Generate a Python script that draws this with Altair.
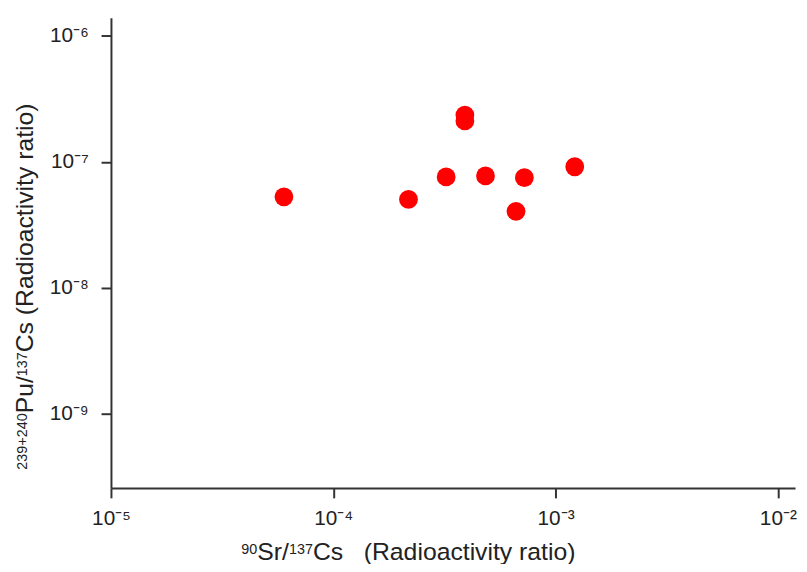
import altair as alt
import pandas as pd
import math

# Data
sr_cs = [6.0e-5, 2.18e-4, 3.22e-4, 3.91e-4, 3.91e-4, 4.84e-4, 7.24e-4, 6.64e-4, 1.22e-3]
pu_cs = [5.28e-8, 5.03e-8, 7.59e-8, 2.35e-7, 2.11e-7, 7.72e-8, 7.49e-8, 4.05e-8, 9.14e-8]

x_ticks = [1e-5, 1e-4, 1e-3, 1e-2]
x_tick_labels = ["10⁻⁵", "10⁻⁴", "10⁻³", "10⁻²"]
y_ticks = [1e-9, 1e-8, 1e-7, 1e-6]
y_tick_labels = ["10⁻⁹", "10⁻⁸", "10⁻⁷", "10⁻⁶"]

# Axis titles as (text, is_superscript) pieces
x_title_pieces = [("90", True), ("Sr/", False), ("137", True), ("Cs", False), ("   ", False),
                  ("(Radioactivity ratio)", False)]
y_title_pieces = [("239+240", True), ("Pu/", False), ("137", True), ("Cs ", False),
                  ("(Radioactivity ratio)", False)]

df = pd.DataFrame({"sr": sr_cs, "pu": pu_cs})

FONT = "Liberation Sans"
AX = "#333333"
TXT = "#222222"
W, H = 691, 475
MAIN_FS, SUP_FS, SUP_RAISE = 25, 14.5, 6

# Arial / Liberation Sans advance widths (per em)
ADV = {c: 0.556 for c in "0123456789acdouy"}
ADV.update({"S": 0.667, "r": 0.333, "/": 0.278, "C": 0.722, "s": 0.5, " ": 0.278,
            "(": 0.333, ")": 0.333, "R": 0.722, "i": 0.222, "c": 0.5, "t": 0.278,
            "v": 0.5, "y": 0.5, "P": 0.667, "+": 0.584})


def piece_width(s, fs):
    return sum(ADV.get(ch, 0.556) for ch in s) * fs


def layout(pieces, center, axis_pos, horizontal):
    total = sum(piece_width(s, SUP_FS if sup else MAIN_FS) for s, sup in pieces)
    rows = []
    cur = center - total / 2 if horizontal else center + total / 2
    for s, sup in pieces:
        fs = SUP_FS if sup else MAIN_FS
        w = piece_width(s, fs)
        if s.strip():
            if horizontal:
                rows.append({"t": s, "px": cur, "py": axis_pos - (SUP_RAISE if sup else 0), "fs": fs})
            else:
                rows.append({"t": s, "px": axis_pos - (SUP_RAISE if sup else 0), "py": cur, "fs": fs})
        cur = cur + w if horizontal else cur - w
    return pd.DataFrame(rows)


def label_expr(ticks, labels):
    expr = "''"
    for t, lab in zip(ticks, labels):
        e = round(math.log10(t))
        expr = f"round(log(datum.value)/LN10) == {e} ? '{lab}' : ({expr})"
    return expr


common_axis = dict(
    grid=False, domainColor=AX, domainWidth=2, tickColor=AX, tickWidth=2, tickSize=10,
    labelFont=FONT, labelFontSize=21, labelColor=TXT, labelFlush=False, title=None,
)

points = (
    alt.Chart(df)
    .mark_circle(size=360, color="#ff0000", opacity=1)
    .encode(
        x=alt.X(
            "sr:Q",
            scale=alt.Scale(type="log", domain=[1e-5, 1.195e-2], nice=False),
            axis=alt.Axis(values=x_ticks, labelExpr=label_expr(x_ticks, x_tick_labels),
                          labelPadding=10, **common_axis),
        ),
        y=alt.Y(
            "pu:Q",
            scale=alt.Scale(type="log", domain=[10 ** -9.587, 10 ** -5.857], nice=False),
            axis=alt.Axis(values=y_ticks, labelExpr=label_expr(y_ticks, y_tick_labels),
                          labelPadding=13, **common_axis),
        ),
    )
)

x_title_df = layout(x_title_pieces, center=300.5, axis_pos=548, horizontal=True)
y_title_df = layout(y_title_pieces, center=271.5, axis_pos=-79, horizontal=False)

x_title = (
    alt.Chart(x_title_df)
    .mark_text(align="left", baseline="alphabetic", font=FONT, color=TXT)
    .encode(
        x=alt.X("px:Q", scale=None),
        y=alt.Y("py:Q", scale=None),
        size=alt.Size("fs:Q", scale=None, legend=None),
        text="t:N",
    )
)

y_title = (
    alt.Chart(y_title_df)
    .mark_text(align="left", baseline="alphabetic", font=FONT, color=TXT, angle=270)
    .encode(
        x=alt.X("px:Q", scale=None),
        y=alt.Y("py:Q", scale=None),
        size=alt.Size("fs:Q", scale=None, legend=None),
        text="t:N",
    )
)

chart = (
    alt.layer(points, x_title, y_title)
    .resolve_scale(x="independent", y="independent")
    .properties(
        width=W,
        height=H,
        autosize=alt.AutoSizeParams(type="none"),
        padding={"left": 104, "top": 7, "right": 4, "bottom": 74},
    )
    .configure_view(stroke=None)
)

chart.save("out.html", embed_options={"renderer": "svg", "actions": False})
